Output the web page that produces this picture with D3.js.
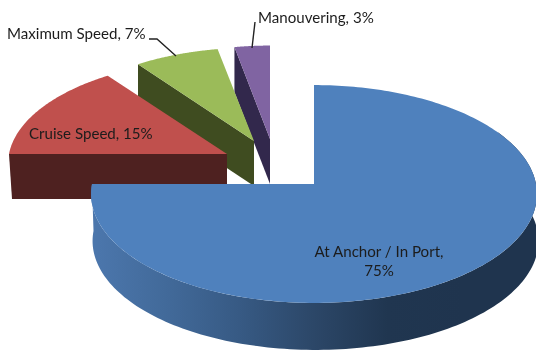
<!DOCTYPE html>
<html><head><meta charset="utf-8">
<script src="https://cdn.jsdelivr.net/npm/d3@7"></script>
<style>html,body{margin:0;padding:0;background:#fff}svg{display:block;filter:blur(.45px)}text{font-family:Lato,"Open Sans",sans-serif;font-size:15.1px;fill:#1c1c1c}</style>
</head><body><svg id="c" width="536" height="351"></svg>
<script>
// data
const categories = ["At Anchor / In Port", "Cruise Speed", "Maximum Speed", "Manouvering"];
const shares = [75, 15, 7, 3];
const topColors = ["#4f81bd", "#c0504d", "#9bbb59", "#8064a2"];
const sideColors = ["#2a4466", "#4e2120", "#3f4c20", "#32284c"];
const wallStops = ["#4c77ad", "#426a9a", "#375a84", "#2c4768", "#203650", "#1f344e", "#1f344e"];

// layout
const apexes = [[314,184],[227,154],[254,141],[270,139]];
const radiusX = [222,218,212,207], radiusY = [108,104,102,102];
const depth = [47,45,45,45];
const persp = 0.0917;

const svg = d3.select("#c");
const pie = d3.pie().value(d=>d).sort(null).startAngle(0).endAngle(2*Math.PI);
const arcs = pie(shares);
const project = (i,a,dy=0)=>{
  const u=Math.sin(a), v=Math.cos(a), w=1+persp*v;
  return [apexes[i][0]+radiusX[i]*u/w, apexes[i][1]-radiusY[i]*v/w+dy];
};
const line = d3.line();
const samples = (a0,a1,n=90)=>d3.range(n+1).map(k=>a0+(a1-a0)*k/n);

const defs = svg.append("defs");
const xScale = d3.scaleLinear().domain([0,wallStops.length-1]).range([91,536]);
const grad = defs.append("linearGradient").attr("id","wall").attr("gradientUnits","userSpaceOnUse")
  .attr("x1",91).attr("x2",536).attr("y1",0).attr("y2",0);
wallStops.forEach((c,i)=>grad.append("stop").attr("offset",(xScale(i)-91)/445).attr("stop-color",c));

// exploded slices drawn back to front
[3,2,1].forEach(i=>{
  const s=arcs[i], p=project(i,s.startAngle), A=apexes[i], d=depth[i];
  svg.append("path").attr("fill",sideColors[i])
    .attr("d",line([A,p,[p[0]+(i===1?3:0),p[1]+d],[A[0],A[1]+d]])+"Z");
  const top=[A].concat(samples(s.startAngle,s.endAngle).map(a=>project(i,a)));
  svg.append("path").attr("fill",topColors[i]).attr("d",line(top)+"Z");
});

// main slice: wall then top
const main=arcs[0];
const front=samples(main.startAngle+Math.PI/3,main.endAngle,160);
const upper=front.map(a=>project(0,a));
const lower=front.map(a=>{const p=project(0,a,depth[0]);return [p[0]+1.5,p[1]];}).reverse();
svg.append("path").attr("fill","url(#wall)").attr("d",line(upper.concat(lower))+"Z");
const mainTop=[apexes[0]].concat(samples(main.startAngle,main.endAngle,240).map(a=>project(0,a)));
svg.append("path").attr("fill",topColors[0]).attr("d",line(mainTop)+"Z");

// leader lines
const leaders=[[[149,39],[157,39],[176,56]],[[255,22],[252,48]]];
leaders.forEach(l=>svg.append("path").attr("fill","none").attr("stroke","#222").attr("stroke-width",1.4).attr("d",line(l)));

// labels
const lab=(x,y,t,anchor="start")=>svg.append("text").attr("x",x).attr("y",y).attr("text-anchor",anchor).text(t);
lab(7,39,`${categories[2]}, ${shares[2]}%`);
lab(258,23,`${categories[3]}, ${shares[3]}%`);
lab(29,139,`${categories[1]}, ${shares[1]}%`);
lab(379,257,`${categories[0]},`,"middle");
lab(379,276,`${shares[0]}%`,"middle");
</script></body></html>
